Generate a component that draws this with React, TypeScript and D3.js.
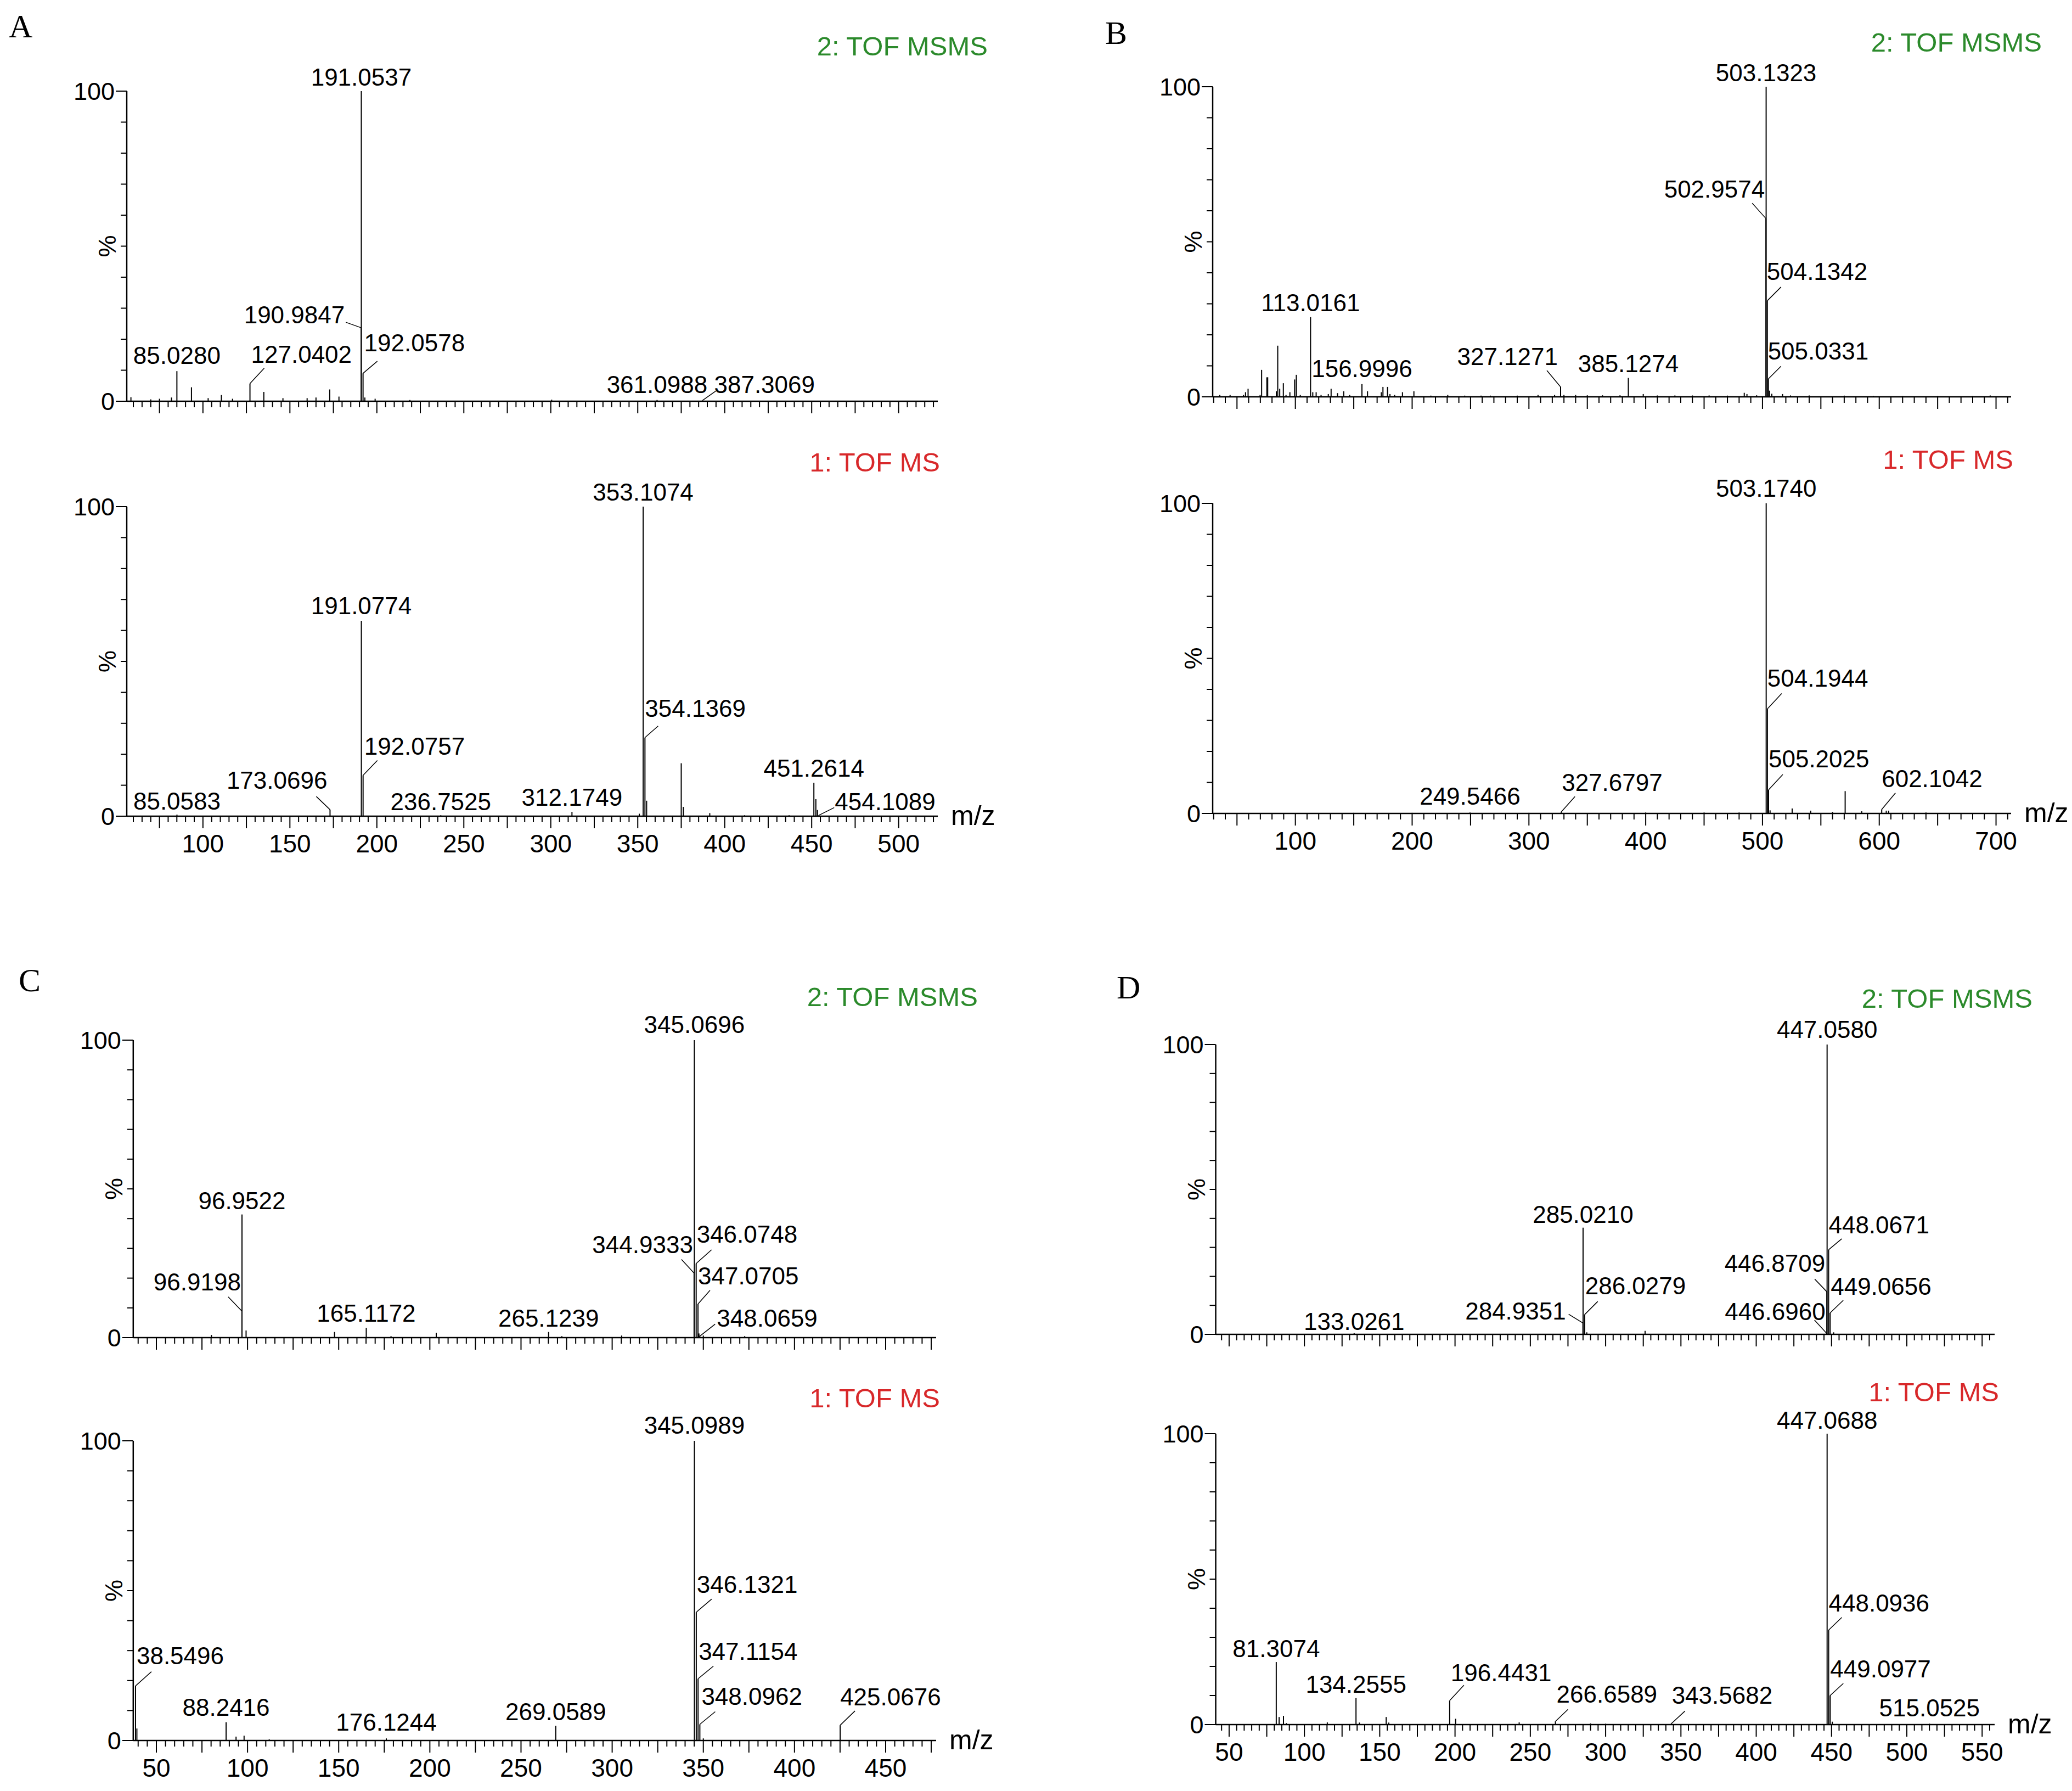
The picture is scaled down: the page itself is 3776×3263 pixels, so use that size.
import React from 'react';
import * as d3 from 'd3';

type Peak = [number, number];
type Lab = { t: string; a: 'start' | 'middle' | 'end'; dx: number; dy: number; lx?: number; ly?: number };

// ---------------- DATA ----------------
// Panel A
const aMsmsPeaks: Peak[] = [
  [58.6, 1.3], [70, 0.6], [75, 0.8], [81.9, 1.2], [85.028, 9.7], [93.4, 4.5], [103, 1.0], [110.6, 2.0],
  [117, 0.8], [127.0402, 5.7], [135.0, 3.0], [146, 1.0], [159.9, 1.0], [165, 1.2], [172.9, 3.8], [178.2, 1.5],
  [190.9847, 23.7], [191.0537, 100], [192.0578, 9.0], [193.1, 1.2], [199, 0.8], [219, 0.4], [300.5, 0.5],
  [361.0988, 0.4], [387.3069, 0.3],
];
const aMsmsLabels: Lab[] = [
  { t: '191.0537', a: 'middle', dx: 0, dy: -10 },
  { t: '190.9847', a: 'end', dx: -30, dy: -8, lx: -28, ly: -10 },
  { t: '192.0578', a: 'start', dx: 2, dy: -40, lx: 26, ly: -22 },
  { t: '85.0280', a: 'middle', dx: 0, dy: -13 },
  { t: '127.0402', a: 'start', dx: 2, dy: -38, lx: 26, ly: -28 },
  { t: '361.0988', a: 'middle', dx: 0, dy: -13 },
  { t: '387.3069', a: 'start', dx: 21, dy: -13, lx: 24, ly: -17 },
];
const aMsPeaks: Peak[] = [
  [85.0583, 0.5], [173.0696, 2.1], [191.0774, 63.1], [192.0757, 13.2], [236.7525, 0.3], [312.1749, 1.4],
  [350.9, 0.8], [353.1074, 100], [354.1369, 25.4], [355.1, 5.0], [375.0, 17.1], [376.2, 3.0], [391.4, 1.0],
  [411.4, 0.3], [437, 0.3], [451.2614, 10.8], [452.4, 5.5], [453.3, 2.0], [454.1089, 0.3],
];
const aMsLabels: Lab[] = [
  { t: '353.1074', a: 'middle', dx: 0, dy: -11 },
  { t: '191.0774', a: 'middle', dx: 0, dy: -12 },
  { t: '192.0757', a: 'start', dx: 2, dy: -38, lx: 26, ly: -27 },
  { t: '173.0696', a: 'end', dx: -5, dy: -38, lx: -25, ly: -24 },
  { t: '85.0583', a: 'middle', dx: 0, dy: -9 },
  { t: '236.7525', a: 'middle', dx: 0, dy: -9 },
  { t: '312.1749', a: 'middle', dx: 0, dy: -11 },
  { t: '354.1369', a: 'start', dx: 0, dy: -38, lx: 24, ly: -21 },
  { t: '451.2614', a: 'middle', dx: 0, dy: -11 },
  { t: '454.1089', a: 'start', dx: 29, dy: -9, lx: 28, ly: -14 },
];

// Panel B
const bMsmsPeaks: Peak[] = [
  [35.3, 0.6], [44.1, 0.6], [55.6, 0.6], [57.3, 1.5], [59.5, 2.6], [69.8, 0.6], [71.1, 8.7], [75.6, 6.3],
  [76.3, 6.3], [83.7, 1.8], [84.9, 16.5], [86.6, 2.6], [89.7, 4.4], [92, 0.6], [95.3, 1.5], [99.4, 5.6],
  [100.8, 7.1], [104.2, 0.6], [113.0161, 25.7], [114.9, 1.5], [117.8, 1.5], [122, 0.6], [128.2, 0.9],
  [130.6, 2.6], [136.1, 1.2], [141.4, 1.8], [146.5, 0.6], [156.9996, 4.1], [161.8, 1.8], [173.6, 1.5],
  [175.0, 3.2], [178.9, 3.2], [181, 0.9], [185, 0.6], [191.7, 1.5], [201.5, 1.8], [216, 0.4], [230.5, 0.6],
  [245, 0.4], [259, 0.4], [267, 0.4], [290, 0.4], [307.8, 0.6], [322, 0.6], [327.1271, 3.2], [330, 0.6],
  [340, 0.6], [350, 0.5], [363, 0.5], [378, 0.5], [385.1274, 6.1], [397.9, 0.9], [410, 0.45], [425, 0.45],
  [440, 0.45], [454.3, 0.45], [470, 0.4], [484.4, 1.3], [486.7, 0.9], [495, 0.5], [502.9574, 57.5],
  [503.1323, 100], [504.1342, 31], [505.0331, 5.8], [506, 2.0], [508, 1.0], [517.2, 0.9], [524, 0.45],
  [540, 0.45], [570, 0.4], [595, 0.3], [620, 0.3], [650, 0.3], [680, 0.3], [695, 0.45],
];
const bMsmsLabels: Lab[] = [
  { t: '503.1323', a: 'middle', dx: 0, dy: -10 },
  { t: '502.9574', a: 'end', dx: -2, dy: -38, lx: -25, ly: -28 },
  { t: '504.1342', a: 'start', dx: -1, dy: -38, lx: 25, ly: -25 },
  { t: '505.0331', a: 'start', dx: -1, dy: -35, lx: 23, ly: -23 },
  { t: '113.0161', a: 'middle', dx: 0, dy: -11 },
  { t: '156.9996', a: 'middle', dx: 0, dy: -13 },
  { t: '327.1271', a: 'end', dx: -5, dy: -40, lx: -25, ly: -30 },
  { t: '385.1274', a: 'middle', dx: 0, dy: -11 },
];
const bMsPeaks: Peak[] = [
  [150, 0.2], [200, 0.2], [249.5466, 0.3], [300, 0.2], [327.6797, 0.5], [400, 0.3], [450, 0.3], [480, 0.3],
  [503.174, 100], [504.1944, 33.7], [505.2025, 7.6], [506.5, 1.0], [525.4, 1.6], [541.3, 0.9], [560, 0.5],
  [570.8, 7.2], [585, 0.7], [602.1042, 1.3], [606, 0.9], [608, 0.9], [640, 0.3],
];
const bMsLabels: Lab[] = [
  { t: '503.1740', a: 'middle', dx: 0, dy: -12 },
  { t: '504.1944', a: 'start', dx: 0, dy: -41, lx: 26, ly: -28 },
  { t: '505.2025', a: 'start', dx: 0, dy: -41, lx: 26, ly: -28 },
  { t: '602.1042', a: 'start', dx: 0, dy: -41, lx: 25, ly: -30 },
  { t: '249.5466', a: 'middle', dx: 0, dy: -14 },
  { t: '327.6797', a: 'start', dx: 1, dy: -38, lx: 25, ly: -28 },
];

// Panel C
const cMsmsPeaks: Peak[] = [
  [80.2, 0.9], [96.9198, 8.9], [96.9522, 41.4], [99.2, 2.4], [147.7, 1.9], [165.1172, 3.3], [178.7, 0.5],
  [203.5, 1.6], [265.1239, 1.9], [272.4, 0.5], [305.2, 0.7], [344.9333, 21.7], [345.0696, 100],
  [346.0748, 24.9], [347.0705, 11.3], [347.6, 1.4], [348.0659, 0.5], [350, 0.7], [372.7, 0.5],
];
const cMsmsLabels: Lab[] = [
  { t: '345.0696', a: 'middle', dx: 0, dy: -13 },
  { t: '96.9522', a: 'middle', dx: 0, dy: -10 },
  { t: '96.9198', a: 'end', dx: -2, dy: -38, lx: -25, ly: -26 },
  { t: '165.1172', a: 'middle', dx: 0, dy: -11 },
  { t: '265.1239', a: 'middle', dx: 0, dy: -10 },
  { t: '344.9333', a: 'end', dx: -2, dy: -36, lx: -23, ly: -25 },
  { t: '346.0748', a: 'start', dx: 1, dy: -38, lx: 28, ly: -25 },
  { t: '347.0705', a: 'start', dx: 0, dy: -36, lx: 22, ly: -25 },
  { t: '348.0659', a: 'start', dx: 31, dy: -17, lx: 28, ly: -22 },
];
const cMsPeaks: Peak[] = [
  [38.5496, 18.2], [39.3, 4.0], [88.2416, 6.1], [93.7, 1.3], [98.1, 1.6], [111.9, 0.4], [176.1244, 0.7],
  [269.0589, 4.9], [345.0989, 100], [346.1321, 42.8], [347.1154, 20.6], [348.0962, 5.4], [350, 0.7],
  [425.0676, 5.1],
];
const cMsLabels: Lab[] = [
  { t: '345.0989', a: 'middle', dx: 0, dy: -13 },
  { t: '346.1321', a: 'start', dx: 1, dy: -35, lx: 28, ly: -24 },
  { t: '347.1154', a: 'start', dx: 1, dy: -35, lx: 28, ly: -23 },
  { t: '348.0962', a: 'start', dx: 3, dy: -36, lx: 28, ly: -23 },
  { t: '38.5496', a: 'start', dx: 2, dy: -40, lx: 29, ly: -26 },
  { t: '88.2416', a: 'middle', dx: 0, dy: -12 },
  { t: '176.1244', a: 'middle', dx: 0, dy: -14 },
  { t: '269.0589', a: 'middle', dx: 0, dy: -10 },
  { t: '425.0676', a: 'start', dx: 0, dy: -36, lx: 27, ly: -26 },
];

// Panel D
const dMsmsPeaks: Peak[] = [
  [133.0261, 0.4], [284.9351, 3.9], [285.021, 36.8], [286.0279, 6.8], [287.5, 0.7], [326.2, 1.2],
  [446.696, 0.4], [446.8709, 14.7], [447.058, 100], [448.0671, 29.2], [449.0656, 7.4], [451.4, 0.7],
];
const dMsmsLabels: Lab[] = [
  { t: '447.0580', a: 'middle', dx: 0, dy: -12 },
  { t: '285.0210', a: 'middle', dx: 0, dy: -9 },
  { t: '286.0279', a: 'start', dx: 1, dy: -37, lx: 24, ly: -24 },
  { t: '284.9351', a: 'end', dx: -31, dy: -6, lx: -26, ly: -16 },
  { t: '448.0671', a: 'start', dx: 0, dy: -30, lx: 24, ly: -20 },
  { t: '446.8709', a: 'end', dx: -3, dy: -36, lx: -22, ly: -23 },
  { t: '449.0656', a: 'start', dx: 1, dy: -33, lx: 24, ly: -23 },
  { t: '446.6960', a: 'end', dx: -2, dy: -24, lx: -22, ly: -24 },
  { t: '133.0261', a: 'middle', dx: 0, dy: -6 },
];
const dMsPeaks: Peak[] = [
  [81.3074, 21.5], [83.2, 2.6], [86.1, 3.0], [88, 0.5], [115.2, 0.75], [134.2555, 9.1], [136.5, 0.7],
  [154.3, 2.6], [156, 0.7], [196.4431, 8.25], [200.4, 2.0], [242.6, 0.75], [266.6589, 1.1], [290, 0.4],
  [300, 0.3], [343.5682, 0.3], [447.0688, 100], [448.0936, 32.5], [449.0977, 10], [450.5, 1.0],
  [515.0525, 0.3],
];
const dMsLabels: Lab[] = [
  { t: '447.0688', a: 'middle', dx: 0, dy: -9 },
  { t: '448.0936', a: 'start', dx: 0, dy: -34, lx: 24, ly: -23 },
  { t: '449.0977', a: 'start', dx: 0, dy: -33, lx: 24, ly: -22 },
  { t: '81.3074', a: 'middle', dx: 0, dy: -9 },
  { t: '134.2555', a: 'middle', dx: 0, dy: -10 },
  { t: '196.4431', a: 'start', dx: 2, dy: -35, lx: 26, ly: -28 },
  { t: '266.6589', a: 'start', dx: 2, dy: -34, lx: 23, ly: -22 },
  { t: '343.5682', a: 'start', dx: 1, dy: -36, lx: 25, ly: -23 },
  { t: '515.0525', a: 'middle', dx: 0, dy: -13 },
];

const panelLetters = ['A', 'B', 'C', 'D'];
const msmsTitle = '2: TOF MSMS';
const msTitle = '1: TOF MS';

// ---------------- LAYOUT ----------------
const W = 3776;
const H = 3263;
const FONT = "'Liberation Sans', Arial, Helvetica, sans-serif";
const SERIF = "'Liberation Serif', 'Times New Roman', serif";
const GREEN = '#2b8a2b';
const RED = '#d8282a';

interface PanelCfg {
  letter: string; letterX: number; letterY: number;
  domain: [number, number]; range: [number, number];
  minor: number; major: number; labelStep: number;
  top: { y0: number; y100: number; peaks: Peak[]; labels: Lab[]; tx: number; ty: number };
  bot: { y0: number; y100: number; peaks: Peak[]; labels: Lab[]; tx: number; ty: number };
}

const panels: PanelCfg[] = [
  {
    letter: panelLetters[0], letterX: 16, letterY: 68,
    domain: [56.2, 522.5], range: [231, 1709], minor: 5, major: 25, labelStep: 50,
    top: { y0: 731, y100: 166, peaks: aMsmsPeaks, labels: aMsmsLabels, tx: 1800, ty: 101 },
    bot: { y0: 1487, y100: 923, peaks: aMsPeaks, labels: aMsLabels, tx: 1713, ty: 859 },
  },
  {
    letter: panelLetters[1], letterX: 2014, letterY: 80,
    domain: [29.2, 712.9], range: [2210, 3665], minor: 10, major: 50, labelStep: 100,
    top: { y0: 723, y100: 158, peaks: bMsmsPeaks, labels: bMsmsLabels, tx: 3721, ty: 94 },
    bot: { y0: 1482, y100: 917, peaks: bMsPeaks, labels: bMsLabels, tx: 3669, ty: 854 },
  },
  {
    letter: panelLetters[2], letterX: 34, letterY: 1806,
    domain: [37.3, 477.7], range: [242.8, 1706], minor: 5, major: 25, labelStep: 50,
    top: { y0: 2437, y100: 1895, peaks: cMsmsPeaks, labels: cMsmsLabels, tx: 1782, ty: 1833 },
    bot: { y0: 3171, y100: 2625, peaks: cMsPeaks, labels: cMsLabels, tx: 1713, ty: 2564 },
  },
  {
    letter: panelLetters[3], letterX: 2035, letterY: 1819,
    domain: [41.1, 558.3], range: [2215.5, 3635], minor: 5, major: 25, labelStep: 50,
    top: { y0: 2431, y100: 1903, peaks: dMsmsPeaks, labels: dMsmsLabels, tx: 3704, ty: 1836 },
    bot: { y0: 3142, y100: 2612, peaks: dMsPeaks, labels: dMsLabels, tx: 3643, ty: 2553 },
  },
];

const LABEL_SIZE = 44;

function Spectrum(props: {
  domain: [number, number]; range: [number, number]; minor: number; major: number; labelStep: number;
  y0: number; y100: number; peaks: Peak[]; labels: Lab[]; showTickLabels: boolean;
  title: string; titleColor: string; tx: number; ty: number;
}) {
  const { domain, range, minor, major, labelStep, y0, y100, peaks, labels, showTickLabels, title, titleColor, tx, ty } = props;
  const x = d3.scaleLinear().domain(domain).range(range);
  const y = d3.scaleLinear().domain([0, 100]).range([y0, y100]);
  const ax = range[0];
  const start = Math.ceil(domain[0] / minor) * minor;
  const ticks = d3.range(start, domain[1] + 1e-9, minor);
  const isMult = (v: number, s: number) => Math.abs(v / s - Math.round(v / s)) < 1e-6;
  const yTicks = d3.range(0, 101, 10);
  const peakMap = new Map<string, Peak>();
  peaks.forEach((p) => peakMap.set(p[0].toFixed(4), p));

  return (
    <g>
      {peaks.map((p, i) => (
        <line key={'p' + i} x1={x(p[0])} x2={x(p[0])} y1={y(0)} y2={y(p[1])} stroke="#000" strokeWidth={2} />
      ))}
      <line x1={range[0]} x2={range[1]} y1={y0} y2={y0} stroke="#000" strokeWidth={2.5} />
      {ticks.map((v, i) => {
        const big = isMult(v, major);
        return <line key={'t' + i} x1={x(v)} x2={x(v)} y1={y0} y2={y0 + (big ? 22 : 11)} stroke="#000" strokeWidth={2} />;
      })}
      {showTickLabels &&
        ticks.filter((v) => isMult(v, labelStep)).map((v, i) => (
          <text key={'tl' + i} x={x(v)} y={y0 + 66} textAnchor="middle" fontSize={46} fontFamily={FONT} fill="#000">
            {Math.round(v)}
          </text>
        ))}
      <line x1={ax} x2={ax} y1={y0 + 1} y2={y100} stroke="#000" strokeWidth={2.5} />
      {yTicks.map((v) => (
        <line key={'y' + v} x1={ax - (v === 0 || v === 100 ? 20 : 11)} x2={ax} y1={y(v)} y2={y(v)} stroke="#000" strokeWidth={2} />
      ))}
      <text x={ax - 22} y={y(100)} dy="0.36em" textAnchor="end" fontSize={45} fontFamily={FONT}>100</text>
      <text x={ax - 22} y={y(0)} dy="0.36em" textAnchor="end" fontSize={45} fontFamily={FONT}>0</text>
      <text
        transform={`translate(${ax - 36},${y(50)}) rotate(-90)`}
        textAnchor="middle"
        dy="0.36em"
        fontSize={45}
        fontFamily={FONT}
      >
        %
      </text>
      <text x={tx} y={ty} textAnchor="end" fontSize={49} fontFamily={FONT} fill={titleColor}>
        {title}
      </text>
      {labels.map((l, i) => {
        const mz = parseFloat(l.t);
        const pk = peakMap.get(mz.toFixed(4));
        const pct = pk ? pk[1] : 0;
        const px = x(mz);
        const py = y(pct);
        return (
          <g key={'l' + i}>
            {l.lx !== undefined && l.ly !== undefined && (
              <line x1={px} y1={py} x2={px + l.lx} y2={py + l.ly} stroke="#000" strokeWidth={1.5} />
            )}
            <text x={px + l.dx} y={py + l.dy} textAnchor={l.a} fontSize={LABEL_SIZE} fontFamily={FONT} fill="#000">
              {l.t}
            </text>
          </g>
        );
      })}
    </g>
  );
}

export default function App() {
  return (
    <svg
      width={W}
      height={H}
      viewBox={`0 0 ${W} ${H}`}
      style={{ position: 'absolute', left: 0, top: 0, background: '#fff', display: 'block' }}
    >
      <rect x={0} y={0} width={W} height={H} fill="#fff" />
      {panels.map((p, i) => (
        <g key={i}>
          <text x={p.letterX} y={p.letterY} fontSize={60} fontFamily={SERIF} fill="#000">
            {p.letter}
          </text>
          <Spectrum
            domain={p.domain} range={p.range} minor={p.minor} major={p.major} labelStep={p.labelStep}
            y0={p.top.y0} y100={p.top.y100} peaks={p.top.peaks} labels={p.top.labels} showTickLabels={false}
            title={msmsTitle} titleColor={GREEN} tx={p.top.tx} ty={p.top.ty}
          />
          <Spectrum
            domain={p.domain} range={p.range} minor={p.minor} major={p.major} labelStep={p.labelStep}
            y0={p.bot.y0} y100={p.bot.y100} peaks={p.bot.peaks} labels={p.bot.labels} showTickLabels={true}
            title={msTitle} titleColor={RED} tx={p.bot.tx} ty={p.bot.ty}
          />
          <text x={p.range[1] + 24} y={p.bot.y0 + 16} fontSize={50} fontFamily={FONT} fill="#000">
            m/z
          </text>
        </g>
      ))}
    </svg>
  );
}
